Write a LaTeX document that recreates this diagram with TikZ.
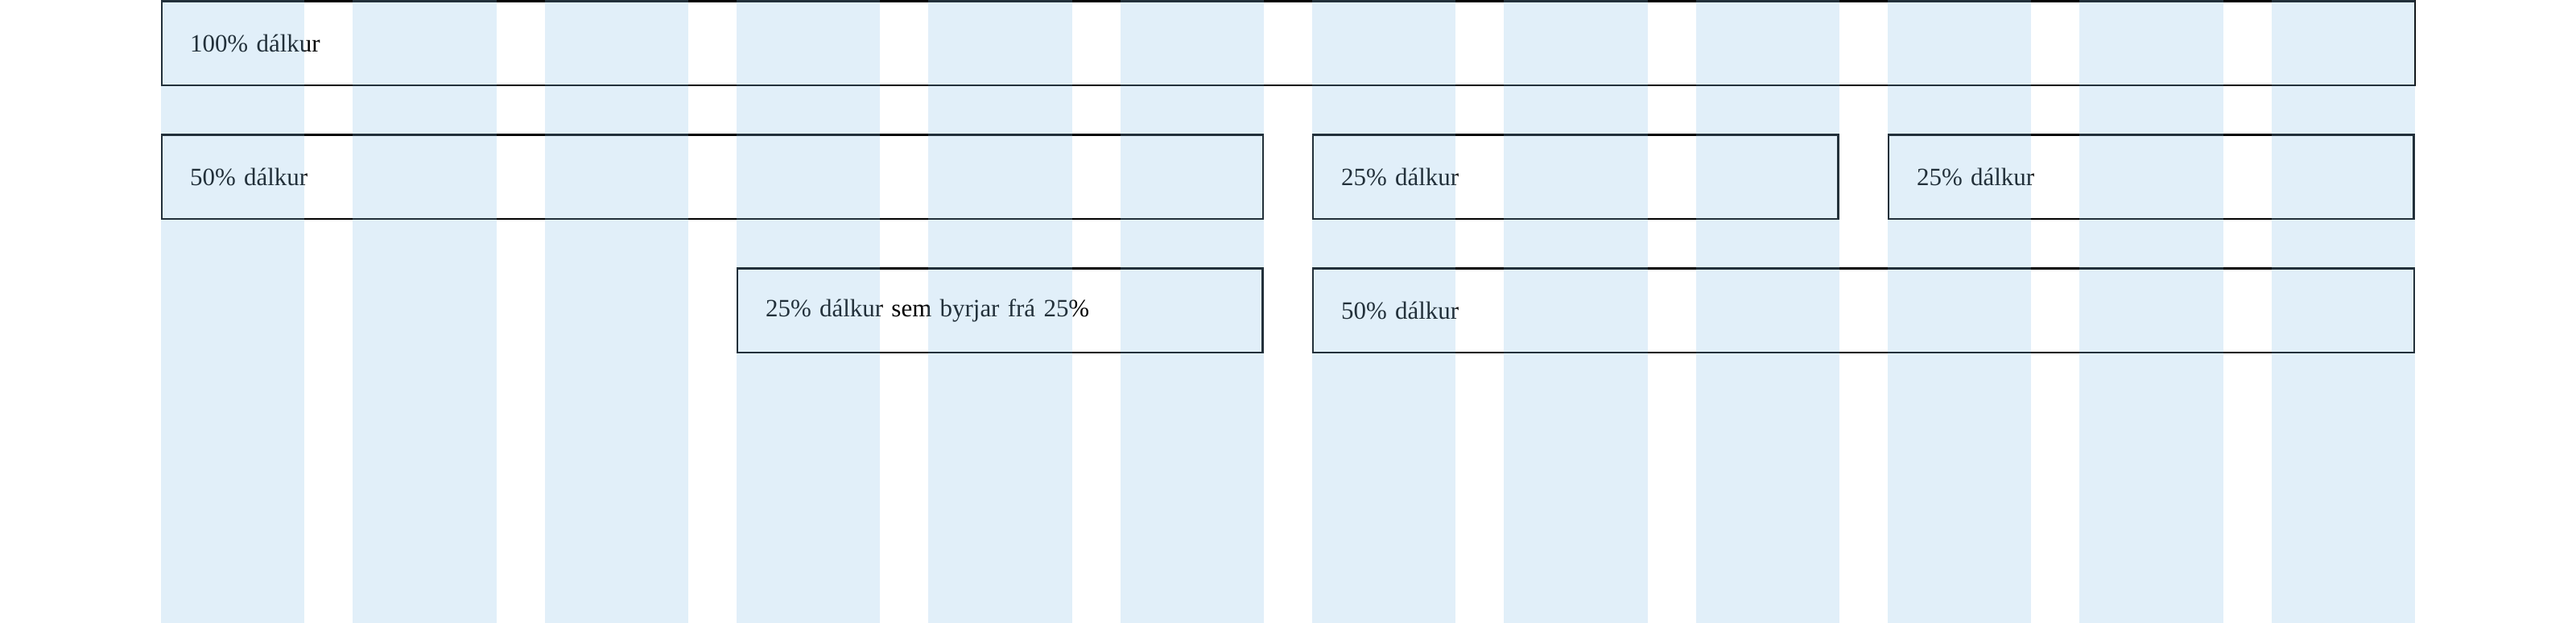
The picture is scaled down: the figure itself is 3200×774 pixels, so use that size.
\documentclass[tikz,border=0pt]{standalone}
\usepackage{fontspec}
\setmainfont{Liberation Serif}
\usetikzlibrary{calc}

\begin{document}
\begin{tikzpicture}[x=0.01cm,y=-0.01cm]

	% INPUTS:
	\newcommand{\gridleft}{200};		% left edge of the grid
	\newcommand{\colwidth}{178.333};	% width of one column
	\newcommand{\colstep}{238.333};		% one column and one gutter
	\newcommand{\rowstep}{166};			% distance between the rows

	% styles
	\tikzstyle{dalkur}=[draw=black,line width=0.6pt,anchor=north west,minimum height=1.04cm,inner xsep=0.35cm,inner ysep=0pt,align=left,text=black,font=\fontsize{8.8}{11}\selectfont];
	\tikzstyle{column}=[fill={rgb,255:red,136;green,192;blue,232},fill opacity=0.25];

	% size of the picture
	\useasboundingbox (0,0) rectangle (3200,774);

	% the points where the boxes start
	\coordinate (r1) at (\gridleft,0.5);
	\coordinate (r2) at (\gridleft,0.5+\rowstep);
	\coordinate (r3) at (\gridleft,0.5+2*\rowstep);

	% first row
	\node[dalkur,text width=27.27cm] (full) at (r1) {100\% dálkur};

	% second row
	\node[dalkur,text width=12.97cm] (half) at (r2) {50\% dálkur};
	\node[dalkur,text width=5.82cm] (quarterA) at ($(r2)+(6*\colstep,0)$) {25\% dálkur};
	\node[dalkur,text width=5.82cm] (quarterB) at ($(r2)+(9*\colstep,0)$) {25\% dálkur};

	% third row
	\node[dalkur,text width=5.82cm] (offset) at ($(r3)+(3*\colstep,0)$) {25\% dálkur sem byrjar frá 25\%};
	\node[dalkur,text width=12.97cm] (halfB) at ($(r3)+(6*\colstep,0)$) {50\% dálkur};

	% the twelve columns lie over everything
	\foreach \i in {0,...,11}
		\fill[column] (\gridleft+\i*\colstep,0) rectangle ++(\colwidth,774);

\end{tikzpicture}
\end{document}
